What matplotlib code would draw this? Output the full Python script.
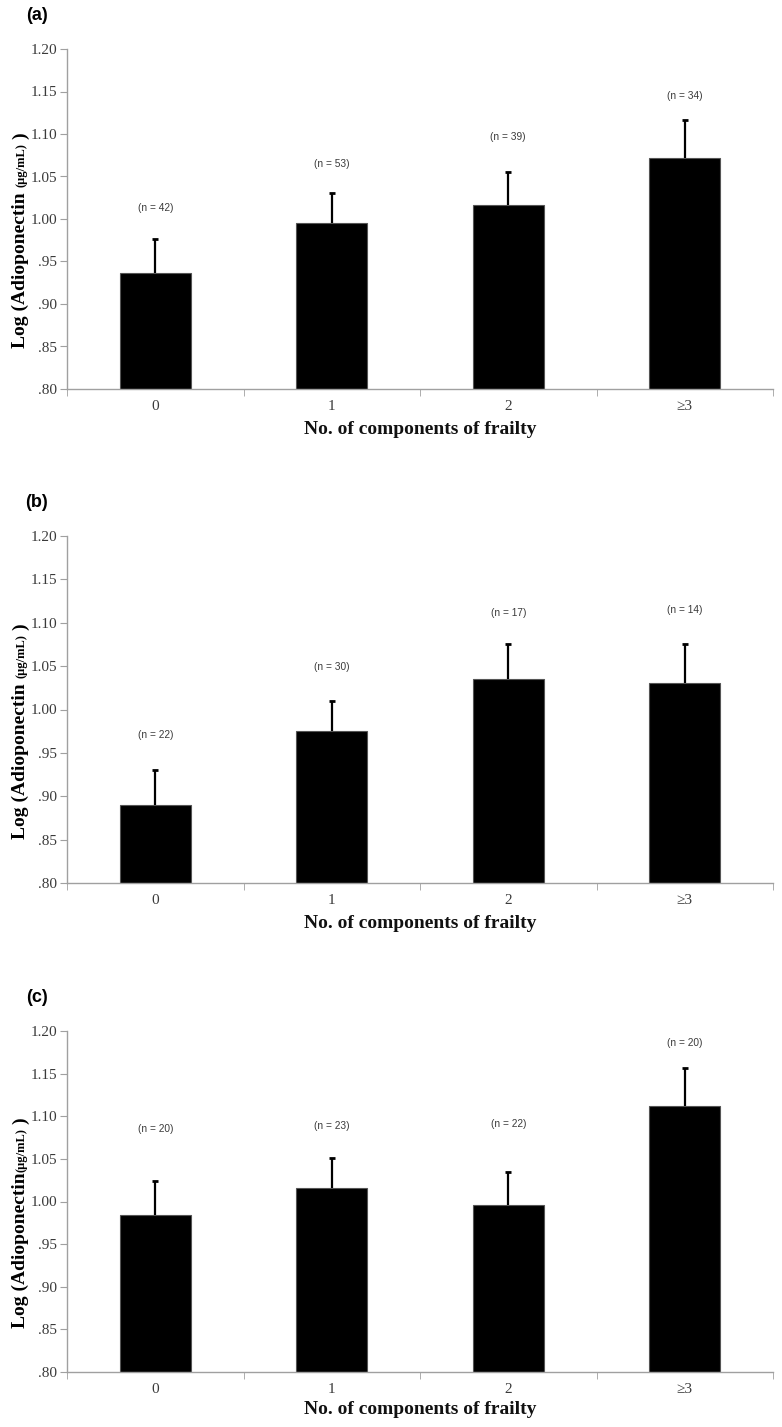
import matplotlib
matplotlib.use("Agg")
import matplotlib.pyplot as plt
from matplotlib.transforms import IdentityTransform

# categories on the x axis
categories = ["0", "1", "2", "\u22653"]

# panel (a)
means_a = [0.937, 0.995, 1.016, 1.072]
err_a = [0.039, 0.035, 0.039, 0.044]
n_a = [42, 53, 39, 34]
ny_a = [1.013, 1.065, 1.097, 1.145]

# panel (b)
means_b = [0.890, 0.975, 1.035, 1.030]
err_b = [0.040, 0.035, 0.041, 0.045]
n_b = [22, 30, 17, 14]
ny_b = [0.971, 1.049, 1.111, 1.115]

# panel (c)
means_c = [0.984, 1.016, 0.996, 1.112]
err_c = [0.040, 0.035, 0.039, 0.045]
n_c = [20, 23, 22, 20]
ny_c = [1.085, 1.088, 1.091, 1.186]

yticks = [0.80, 0.85, 0.90, 0.95, 1.00, 1.05, 1.10, 1.15, 1.20]
ytick_labels = [".80", ".85", ".90", ".95", "1.00", "1.05", "1.10", "1.15", "1.20"]

W, H = 782, 1427
fig = plt.figure(figsize=(W / 100, H / 100), dpi=100)

SERIF = ["Liberation Serif", "DejaVu Serif"]
AXCOL = "#a0a0a0"
TXTCOL = "#3a3a3a"


def px_axes(left, top, right, bottom):
    return fig.add_axes([left / W, 1 - bottom / H, (right - left) / W, (bottom - top) / H])


def ylabel_parts(ax, parts, x_px, center_val):
    # rotated label built from pieces with different sizes
    renderer = fig.canvas.get_renderer()
    texts = []
    lengths = []
    for s, size, gap in parts:
        t = fig.text(0, 0, s, rotation=90, rotation_mode="anchor", ha="left", va="baseline",
                     fontsize=size, family=SERIF, weight="bold", transform=IdentityTransform())
        texts.append(t)
        lengths.append(t.get_window_extent(renderer).height + gap)
    total = sum(lengths)
    yc = ax.transData.transform((0, center_val))[1]
    y = yc - total / 2
    for t, l in zip(texts, lengths):
        t.set_position((x_px, y))
        y += l


def draw_panel(ax, means, errs, ns, ny, letter, unit_gap, xlabel_off):
    x = list(range(len(categories)))
    ax.bar(x, [m - 0.80 for m in means], bottom=0.80, width=0.40, color="black",
           edgecolor="#555555", linewidth=0.8, zorder=2)
    # upper error bars only, cap only at the top
    ax.errorbar(x, means, yerr=[[0] * len(errs), errs], fmt="none", ecolor="black",
                elinewidth=1.6, capsize=0, zorder=3)
    ax.plot(x, [m + e for m, e in zip(means, errs)], linestyle="none", marker="_",
            markersize=5, markeredgewidth=2.0, color="black", zorder=3)
    for xi, n, yy in zip(x, ns, ny):
        ax.text(xi, yy, "(n = %d)" % n, ha="center", va="center", fontsize=7.3,
                family="Liberation Sans", color=TXTCOL)

    ax.set_xlim(-0.5, len(categories) - 0.5)
    ax.set_ylim(0.80, 1.20)
    ax.set_yticks(yticks)
    ax.set_yticklabels(ytick_labels, family=SERIF, fontsize=11, color=TXTCOL)
    ax.set_xticks(x)
    ax.set_xticklabels(categories, family=SERIF, fontsize=11, color=TXTCOL)
    ax.set_xticks([i - 0.5 for i in range(len(categories) + 1)], minor=True)
    ax.tick_params(axis="x", which="major", length=0, pad=8)
    ax.tick_params(axis="x", which="minor", length=5, color=AXCOL, direction="out")
    ax.tick_params(axis="y", length=5, color=AXCOL, direction="out", pad=2)

    for s in ["top", "right"]:
        ax.spines[s].set_visible(False)
    for s in ["left", "bottom"]:
        ax.spines[s].set_color(AXCOL)
        ax.spines[s].set_linewidth(1.0)

    ax.set_xlabel("No. of components of frailty", family=SERIF, weight="bold", fontsize=14,
                  color="#111111")
    ax.xaxis.set_label_coords(0.5, -xlabel_off / (ax.get_position().height * H))
    ax.xaxis.label.set_va("center")

    ylabel_parts(ax, [("Log (Adioponectin", 14, unit_gap), ("(\u03bcg/mL)", 9, 4), (")", 14, 0)],
                 25, 0.975)

    pos = ax.get_position()
    fig.text(pos.x0 - 30 / W, pos.y1 + 34 / H, letter, fontsize=13, weight="bold",
             family="Liberation Sans", ha="center", va="center")


ax_a = px_axes(67, 49, 773, 389)
draw_panel(ax_a, means_a, err_a, n_a, ny_a, "(a)", 5, 41)

ax_b = px_axes(67, 536, 773, 883)
draw_panel(ax_b, means_b, err_b, n_b, ny_b, "(b)", 5, 40)

ax_c = px_axes(67, 1031, 773, 1372)
draw_panel(ax_c, means_c, err_c, n_c, ny_c, "(c)", 1, 38)

fig.savefig("out.png", dpi=100, facecolor="white")
